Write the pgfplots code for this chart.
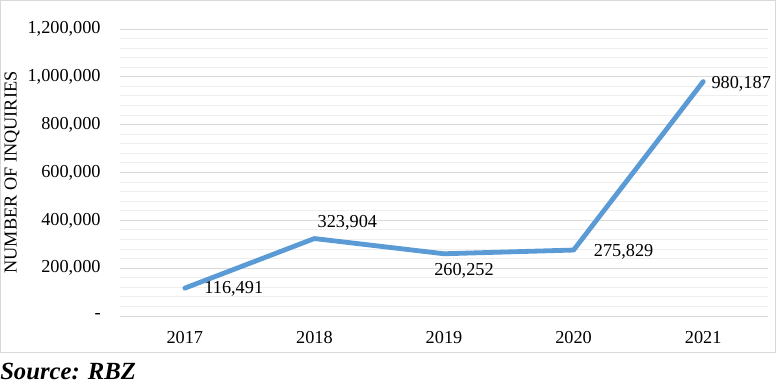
\documentclass[border=0pt]{standalone}
\usepackage{pgfplots}
\pgfplotsset{compat=1.18}
\usepackage{pgfplotstable}
\usepackage{fontspec}
\setmainfont{Liberation Serif}
\definecolor{lineblue}{RGB}{91,155,213}
\definecolor{majgrid}{RGB}{217,217,217}
\definecolor{mingrid}{RGB}{238,238,238}
\pgfplotstableread{
x y lab dx dy
0 116491 116,491 36.75 -0.75
1 323904 323,904 24.75 12
2 260252 260,252 15 -12.75
3 275829 275,829 37.5 -1.5
4 980187 980,187 28.5 -1.5
}\datatable
\begin{document}
\begin{tikzpicture}
\path[use as bounding box] (0pt,0pt) rectangle (582.75pt,-290.25pt);
\draw[majgrid, line width=0.75pt] (0.375pt,-0.375pt) rectangle (581.25pt,-264pt);
\begin{axis}[
  at={(90pt,-237pt)}, anchor=south west,
  scale only axis, width=486pt, height=215.25pt,
  xmin=-0.5, xmax=4.5, ymin=0, ymax=1200000,
  xtick={0,1,2,3,4}, xticklabels={2017,2018,2019,2020,2021},
  ytick={0,200000,400000,600000,800000,1000000,1200000},
  yticklabels={-,{200,000},{400,000},{600,000},{800,000},{1,000,000},{1,200,000}},
  minor y tick num=4,
  ymajorgrids, yminorgrids,
  major grid style={majgrid, line width=0.75pt},
  minor grid style={mingrid, line width=0.75pt},
  axis line style={draw=none},
  tick style={draw=none},
  scaled y ticks=false,
  ticklabel style={font=\fontsize{13.7}{16}\selectfont},
  yticklabel style={xshift=-11pt},
  xticklabel style={yshift=-8pt},
  ylabel={NUMBER OF INQUIRIES},
  every axis y label/.style={at={([xshift=-81pt]axis description cs:0,0.5)}, rotate=90, anchor=center, font=\fontsize{13.7}{16}\selectfont},
  clip=false,
]
\addplot[lineblue, line width=3.6pt, line cap=round, line join=round, mark=none,
  nodes near coords, point meta=explicit symbolic,
  visualization depends on={\thisrow{dx}\as\dx},
  visualization depends on={\thisrow{dy}\as\dy},
  nodes near coords style={anchor=center, xshift=\dx pt, yshift=\dy pt, text=black, font=\fontsize{13.7}{16}\selectfont}]
  table[x=x,y=y,meta=lab]{\datatable};
\end{axis}
\node[anchor=west, inner sep=0pt, font=\fontsize{18.5}{22}\selectfont\bfseries\itshape] at (0pt,-278.25pt) {Source: RBZ};
\end{tikzpicture}
\end{document}
